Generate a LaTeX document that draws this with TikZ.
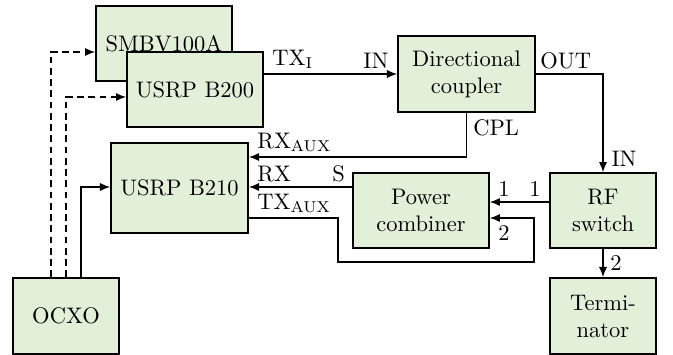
\documentclass[tikz,border=0pt]{standalone}
\usetikzlibrary{arrows.meta,calc}
\definecolor{boxfill}{HTML}{E2EFD9}
\begin{document}
\begin{tikzpicture}[x=0.4444pt,y=-0.4444pt,
  blk/.style={draw, line width=0.8pt, fill=boxfill, align=center, inner sep=0pt},
  wA/.style={minimum width=60.4pt},
  wB/.style={minimum width=47.1pt},
  hA/.style={minimum height=33.3pt},
  arr/.style={line width=0.5pt, -{Latex[length=4.5pt,width=3.6pt]}},
  ref/.style={line width=0.6pt, dash pattern=on 3pt off 2pt, -{Latex[length=4.5pt,width=3.6pt]}},
  lbl/.style={inner xsep=3.6pt, inner ysep=2.2pt}]
\useasboundingbox (0,0) rectangle (673,354);
% blocks
\node[blk,wA,hA] (smbv) at (164,43.5) {SMBV100A};
\node[blk,wA,hA] (b200) at (195,89.5) {USRP B200};
\node[blk,minimum width=60.9pt,minimum height=40pt] (b210) at (179.5,188) {USRP B210};
\node[blk,wB,minimum height=33.8pt] (ocxo) at (66,316) {OCXO};
\node[blk,minimum width=60.9pt,minimum height=33.8pt] (dc) at (466.5,74) {Directional\\coupler};
\node[blk,wA,hA] (pc) at (421,210.5) {Power\\combiner};
\node[blk,wB,hA] (rf) at (603,210.5) {RF\\switch};
\node[blk,wB,minimum height=33.8pt] (term) at (603,316) {Termi-\\nator};
% helper coordinates
\coordinate (cplrow) at (0,157);
\coordinate (rxrow) at (0,187);
\coordinate (row1) at (0,202);
\coordinate (row2) at (0,218);
\coordinate (loopA) at (338,262);
\coordinate (loopB) at (534,262);
\coordinate (smbvrow) at (0,52);
\coordinate (b200row) at (0,97);
\coordinate (o1) at ($(ocxo.north)+(-15,0)$);
\coordinate (o2) at (ocxo.north);
\coordinate (o3) at ($(ocxo.north)+(15,0)$);
% connectors
\draw[arr] (b200.east |- dc.west) -- (dc.west)
  node[lbl,anchor=south east,pos=1] {IN};
\node[lbl,anchor=south west] at (b200.east |- dc.west) {$\mathrm{TX_I}$};
\draw[arr] (dc.east) -| (rf.north);
\node[lbl,anchor=south west,inner xsep=1.8pt] at (dc.east) {OUT};
\node[lbl,anchor=south west] at (rf.north) {IN};
\draw[arr] (dc.south) |- (b210.east |- cplrow);
\node[lbl,anchor=north west,inner xsep=2.8pt,inner ysep=2.8pt] at (dc.south) {CPL};
\node[lbl,anchor=south west] at (b210.east |- cplrow) {$\mathrm{RX_{AUX}}$};
\draw[arr] (pc.west |- rxrow) -- (b210.east |- rxrow);
\node[lbl,anchor=south west] at (b210.east |- rxrow) {RX};
\node[lbl,anchor=south east,inner xsep=3pt] at (pc.west |- rxrow) {S};
\draw[arr] (rf.west |- row1) -- (pc.east |- row1);
\node[lbl,anchor=south west] at (pc.east |- row1) {1};
\node[lbl,anchor=south east] at (rf.west |- row1) {1};
\draw[arr] (b210.east |- row2) -| (loopA) -- (loopB) |- (pc.east |- row2);
\node[lbl,anchor=south west] at (b210.east |- row2) {$\mathrm{TX_{AUX}}$};
\node[lbl,anchor=north west,inner ysep=3pt] at (pc.east |- row2) {2};
\draw[arr] (rf.south) -- (term.north)
  node[lbl,anchor=west,midway,inner xsep=3pt] {2};
\draw[ref] (o1) |- (smbv.west |- smbvrow);
\draw[ref] (o2) |- (b200.west |- b200row);
\draw[arr] (o3) |- (b210.west |- rxrow);
\end{tikzpicture}
\end{document}
